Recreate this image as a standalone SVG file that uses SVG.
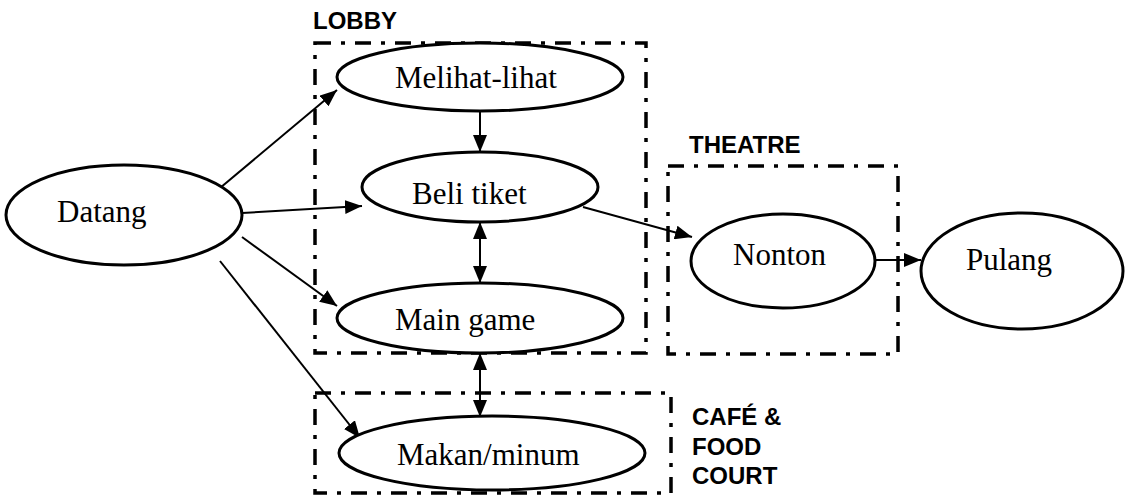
<svg xmlns="http://www.w3.org/2000/svg" width="1141" height="497" viewBox="0 0 1141 497">
<style>
.node ellipse{fill:#fff;stroke:#000;stroke-width:3}
.lbl{font-family:"Liberation Serif","Times New Roman",serif;font-size:31px;fill:#000}
.zone{fill:none;stroke:#000;stroke-width:3.5;stroke-dasharray:16 10 4 10}
.ztxt{font-family:"Liberation Sans",Arial,sans-serif;font-weight:bold;font-size:24px;fill:#000}
.conn line{stroke:#000;stroke-width:2}
</style>
<defs>
<marker id="ah" markerUnits="userSpaceOnUse" markerWidth="18" markerHeight="14" refX="17" refY="7" orient="auto-start-reverse">
<path d="M0,0 L17,7 L0,14 Z" fill="#000"/>
</marker>
</defs>
<rect width="1141" height="497" fill="#fff"/>
<g id="zones">
<rect class="zone" x="315" y="43" width="331" height="310"/>
<rect class="zone" x="668" y="166" width="230" height="188"/>
<rect class="zone" x="315" y="393" width="356" height="100"/>
<text class="ztxt" x="313" y="29">LOBBY</text>
<text class="ztxt" x="689" y="153">THEATRE</text>
<text class="ztxt" x="692" y="425">CAFÉ &amp;</text>
<text class="ztxt" x="692" y="455">FOOD</text>
<text class="ztxt" x="692" y="484">COURT</text>
</g>
<g class="conn" id="connectors">
<line x1="220" y1="188" x2="337" y2="90" marker-end="url(#ah)"/>
<line x1="242" y1="213" x2="362" y2="206" marker-end="url(#ah)"/>
<line x1="242" y1="237" x2="337" y2="306" marker-end="url(#ah)"/>
<line x1="220" y1="261" x2="360" y2="438" marker-end="url(#ah)"/>
<line x1="480" y1="112" x2="480" y2="152" marker-end="url(#ah)"/>
<line x1="480" y1="222" x2="480" y2="283" marker-start="url(#ah)" marker-end="url(#ah)"/>
<line x1="480" y1="353" x2="480" y2="417" marker-start="url(#ah)" marker-end="url(#ah)"/>
<line x1="583" y1="207" x2="692" y2="237" marker-end="url(#ah)"/>
<line x1="876" y1="260" x2="921" y2="260" marker-end="url(#ah)"/>
</g>
<g class="node" id="datang"><ellipse cx="124" cy="215" rx="118" ry="50"/><text class="lbl" x="57" y="222">Datang</text></g>
<g class="node" id="melihat"><ellipse cx="480" cy="77" rx="143" ry="34"/><text class="lbl" x="395" y="88">Melihat-lihat</text></g>
<g class="node" id="beli"><ellipse cx="480" cy="187" rx="118" ry="35"/><text class="lbl" x="412" y="204">Beli tiket</text></g>
<g class="node" id="main"><ellipse cx="480" cy="318" rx="143" ry="35"/><text class="lbl" x="395" y="330">Main game</text></g>
<g class="node" id="makan"><ellipse cx="492" cy="453" rx="153" ry="37"/><text class="lbl" x="397" y="465">Makan/minum</text></g>
<g class="node" id="nonton"><ellipse cx="783" cy="261" rx="92" ry="47"/><text class="lbl" x="733" y="265">Nonton</text></g>
<g class="node" id="pulang"><ellipse cx="1022" cy="271" rx="101" ry="58"/><text class="lbl" x="966" y="270">Pulang</text></g>
</svg>
